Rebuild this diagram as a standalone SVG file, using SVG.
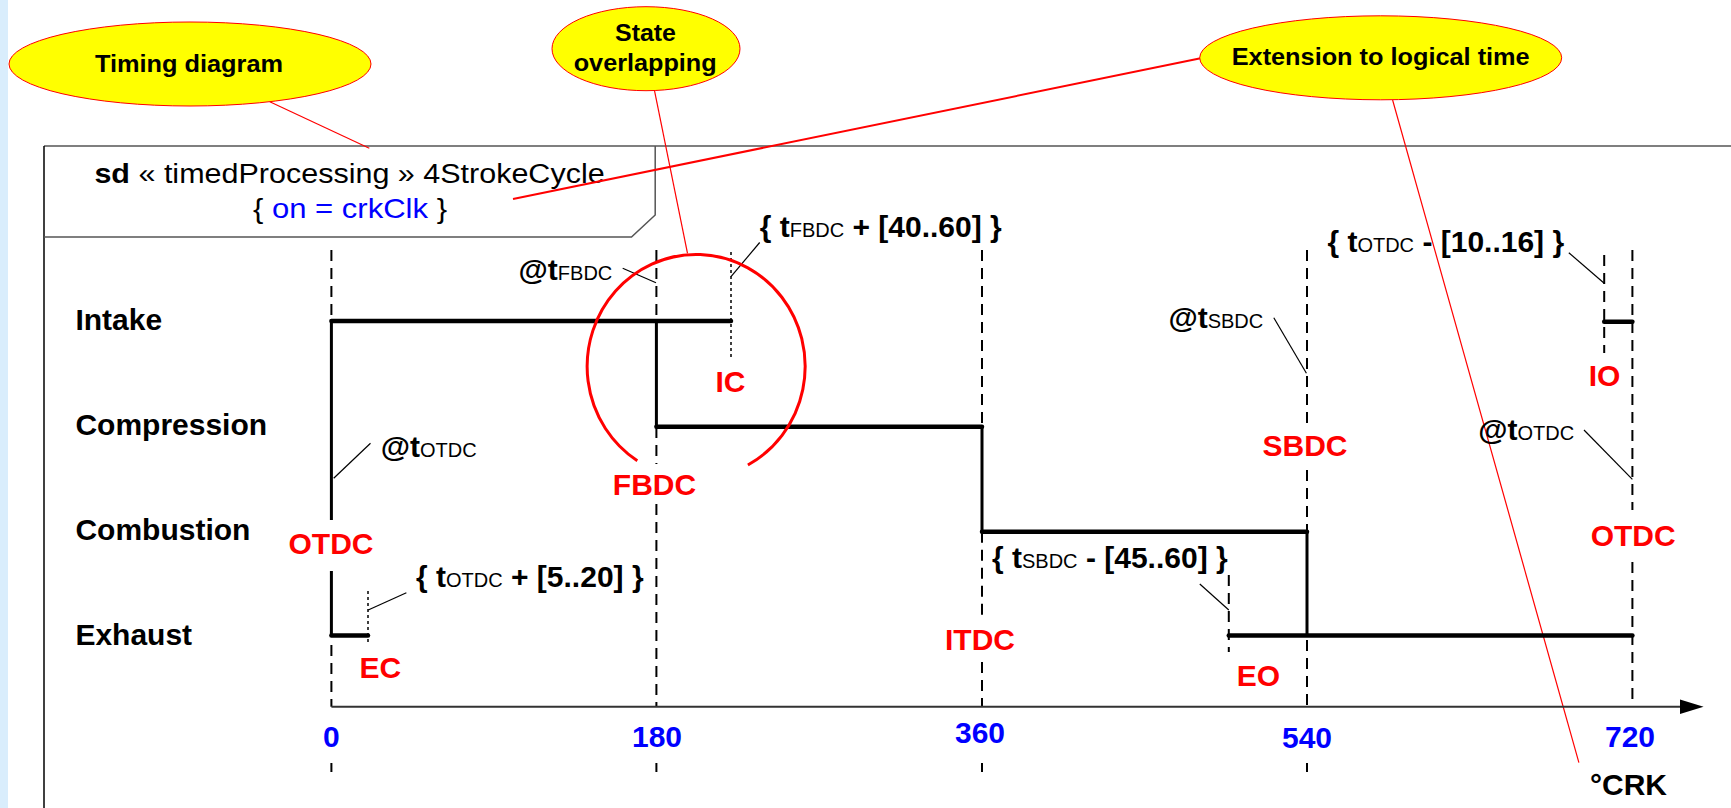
<svg xmlns="http://www.w3.org/2000/svg" width="1731" height="808" viewBox="0 0 1731 808">
<style>
.callout{fill:#ffff00;stroke:#ff0000;stroke-width:1}
.ct{font-family:"Liberation Sans",Arial,sans-serif;font-weight:bold;font-size:23px;fill:#000}
.lane{font-family:"Liberation Sans",Arial,sans-serif;font-weight:bold;font-size:30px;fill:#000}
.red{font-family:"Liberation Sans",Arial,sans-serif;font-weight:bold;font-size:30px;fill:#ff0000;text-anchor:middle}
.tick{font-family:"Liberation Sans",Arial,sans-serif;font-weight:bold;font-size:30px;fill:#0000ff;text-anchor:middle}
.ann{font-family:"Liberation Sans",Arial,sans-serif;font-weight:bold;font-size:30px;fill:#000}
.sub{font-weight:normal;font-size:20px}
.hdr{font-family:"Liberation Sans",Arial,sans-serif;font-size:27px;fill:#000;text-anchor:middle}
.state{stroke:#000;stroke-width:4.5;stroke-linecap:round;fill:none}
.trans{stroke:#000;stroke-width:3;fill:none}
.dash{stroke:#000;stroke-width:2;stroke-dasharray:11 7;fill:none}
.dot{stroke:#000;stroke-width:1.5;stroke-dasharray:3 3;fill:none}
.lead{stroke:#000;stroke-width:1.2;fill:none}
.rl{stroke:#ff0000;stroke-width:1.2;fill:none}
</style>
<rect x="0" y="0" width="1731" height="808" fill="#ffffff"/>
<rect x="0" y="0" width="8" height="808" fill="#d9edfc"/>

<g id="frame">
<line x1="44" y1="146" x2="1731" y2="146" stroke="#555" stroke-width="1.5"/>
<line x1="44" y1="146" x2="44" y2="808" stroke="#000" stroke-width="1.5"/>
<polyline points="655.2,146 655.2,215 631.5,237 44,237" fill="none" stroke="#555" stroke-width="1.5"/>
<text class="hdr" transform="translate(349.5 182.7) scale(1.13 1)"><tspan font-weight="bold">sd</tspan> « timedProcessing » 4StrokeCycle</text>
<text class="hdr" transform="translate(350 218.3) scale(1.15 1)">{ <tspan fill="#0000ff">on = crkClk</tspan> }</text>
</g>

<g id="connectors">
<line class="rl" x1="269.8" y1="101.7" x2="369.3" y2="148.3"/>
<line class="rl" x1="654.5" y1="90.7" x2="687.5" y2="253.3"/>
<line x1="513" y1="199" x2="1200.6" y2="58.3" stroke="#ff0000" stroke-width="2"/>
<line class="rl" x1="1392.6" y1="100" x2="1578.9" y2="762.7"/>
<line class="lead" x1="370.5" y1="443.3" x2="333.7" y2="478.3"/>
<line class="lead" x1="622.7" y1="268.3" x2="656" y2="282.7"/>
<line class="lead" x1="759.7" y1="242.5" x2="731" y2="276.7"/>
<line class="lead" x1="1273.8" y1="317.7" x2="1306.4" y2="373.3"/>
<line class="lead" x1="1568.8" y1="252.7" x2="1604.2" y2="283.3"/>
<line class="lead" x1="1584" y1="430" x2="1632.4" y2="479.3"/>
<line class="lead" x1="406.4" y1="592.7" x2="368.2" y2="610"/>
<line class="lead" x1="1199.8" y1="584" x2="1228.8" y2="610"/>
</g>

<g id="gridlines">
<path class="dash" d="M331.4,250V321M331.4,645V706.7M331.4,763V772"/>
<path class="dash" d="M656.4,250V321M656.4,427V464M656.4,504V706.7M656.4,763V772"/>
<path class="dash" d="M982,250V426.7M982,531.7V620M982,662V706.7M982,763V772"/>
<path class="dash" d="M1307,250V430M1307,470V531.7M1307,640V706.7M1307,763V772"/>
<path class="dash" d="M1632.4,250V510M1632.4,562V706.7"/>
<path class="dash" d="M1604.2,255V353"/>
<path class="dash" d="M1228.8,575V652"/>
<path class="dot" d="M731,252V358"/>
<path class="dot" d="M368,591V643"/>
</g>

<g id="axis">
<line x1="331.4" y1="706.7" x2="1682" y2="706.7" stroke="#333" stroke-width="2"/>
<polygon points="1680,699.4 1703.6,706.7 1680,714" fill="#000"/>
<text class="tick" x="331.4" y="746.7">0</text>
<text class="tick" x="657" y="746.7">180</text>
<text class="tick" x="980" y="742.7">360</text>
<text class="tick" x="1307" y="747.7">540</text>
<text class="tick" x="1630" y="747">720</text>
<text class="ann" x="1590" y="795">°CRK</text>
</g>

<g id="lanes">
<text class="lane" x="75.4" y="330">Intake</text>
<text class="lane" x="75.4" y="435">Compression</text>
<text class="lane" x="75.4" y="540">Combustion</text>
<text class="lane" x="75.4" y="645">Exhaust</text>
</g>

<g id="timeline">
<line class="trans" x1="331.4" y1="321" x2="331.4" y2="520"/>
<line class="trans" x1="331.4" y1="571" x2="331.4" y2="635.5"/>
<line class="trans" x1="656.4" y1="321" x2="656.4" y2="426.7" stroke-width="2.5"/>
<line class="trans" x1="982" y1="426.7" x2="982" y2="531.7"/>
<line class="trans" x1="1307" y1="531.7" x2="1307" y2="635.5"/>
<line class="state" x1="331.4" y1="321" x2="731" y2="321"/>
<line class="state" x1="656.4" y1="426.7" x2="982" y2="426.7"/>
<line class="state" x1="982" y1="531.7" x2="1307" y2="531.7"/>
<line class="state" x1="331.4" y1="635.5" x2="368" y2="635.5"/>
<line class="state" x1="1228.8" y1="635.5" x2="1632.4" y2="635.5"/>
<line class="state" x1="1604.2" y1="321.7" x2="1632.4" y2="321.7"/>
</g>

<g id="events">
<text class="red" x="331" y="554.3">OTDC</text>
<text class="red" x="654.5" y="495">FBDC</text>
<text class="red" x="730.4" y="391.7">IC</text>
<text class="red" x="980" y="650">ITDC</text>
<text class="red" x="1305" y="456">SBDC</text>
<text class="red" x="380.4" y="678.3">EC</text>
<text class="red" x="1258.4" y="685.7">EO</text>
<text class="red" x="1604.5" y="386">IO</text>
<text class="red" x="1633.2" y="546">OTDC</text>
</g>

<g id="constraints">
<text class="ann" x="518.6" y="280">@t<tspan class="sub">FBDC</tspan></text>
<text class="ann" x="759.7" y="237.3">{ t<tspan class="sub">FBDC</tspan> + [40..60] }</text>
<text class="ann" x="380.8" y="456.7">@t<tspan class="sub">OTDC</tspan></text>
<text class="ann" x="416" y="586.7">{ t<tspan class="sub">OTDC</tspan> + [5..20] }</text>
<text class="ann" x="992" y="568">{ t<tspan class="sub">SBDC</tspan> - [45..60] }</text>
<text class="ann" x="1168.4" y="328.3">@t<tspan class="sub">SBDC</tspan></text>
<text class="ann" x="1327.4" y="251.7">{ t<tspan class="sub">OTDC</tspan> - [10..16] }</text>
<text class="ann" x="1478.3" y="440">@t<tspan class="sub">OTDC</tspan></text>
</g>

<g id="overlap-circle">
<path d="M637.3,460.7 A109,112 0 1 1 747.9,465" fill="none" stroke="#ff0000" stroke-width="3"/>
</g>

<g id="callout-timing">
<ellipse class="callout" cx="190" cy="64" rx="181" ry="42"/>
<text class="ct" x="95" y="71.7" textLength="188" lengthAdjust="spacingAndGlyphs">Timing diagram</text>
</g>
<g id="callout-overlap">
<ellipse class="callout" cx="646" cy="48.7" rx="94" ry="42"/>
<text class="ct" x="615" y="40.7" textLength="61" lengthAdjust="spacingAndGlyphs">State</text>
<text class="ct" x="573.7" y="70.7" textLength="143" lengthAdjust="spacingAndGlyphs">overlapping</text>
</g>
<g id="callout-logical">
<ellipse class="callout" cx="1380.7" cy="57.8" rx="181" ry="42"/>
<text class="ct" x="1231.7" y="65" textLength="298" lengthAdjust="spacingAndGlyphs">Extension to logical time</text>
</g>
</svg>
